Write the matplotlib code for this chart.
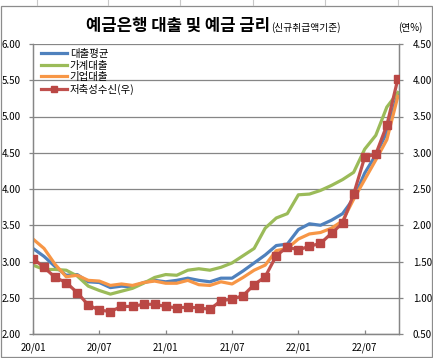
import matplotlib
matplotlib.use("Agg")
import matplotlib.pyplot as plt
from matplotlib.lines import Line2D
from matplotlib.patches import Rectangle

plt.rcParams['font.family'] = ['Noto Sans CJK KR', 'DejaVu Sans']

months = ['20/01','20/02','20/03','20/04','20/05','20/06','20/07','20/08','20/09','20/10','20/11','20/12',
          '21/01','21/02','21/03','21/04','21/05','21/06','21/07','21/08','21/09','21/10','21/11','21/12',
          '22/01','22/02','22/03','22/04','22/05','22/06','22/07','22/08','22/09','22/10']

loan_avg = [3.18, 3.07, 2.93, 2.81, 2.82, 2.72, 2.71, 2.64, 2.66, 2.65, 2.71, 2.74,
            2.72, 2.74, 2.77, 2.74, 2.72, 2.77, 2.77, 2.87, 2.98, 3.09, 3.22, 3.24,
            3.44, 3.52, 3.50, 3.57, 3.66, 3.87, 4.22, 4.47, 4.78, 5.32]
household = [2.95, 2.89, 2.89, 2.88, 2.80, 2.66, 2.60, 2.55, 2.59, 2.63, 2.70, 2.78,
             2.82, 2.81, 2.88, 2.90, 2.88, 2.92, 2.98, 3.08, 3.18, 3.46, 3.60, 3.66,
             3.92, 3.93, 3.98, 4.05, 4.13, 4.23, 4.55, 4.74, 5.13, 5.33]
corporate = [3.31, 3.18, 2.96, 2.79, 2.81, 2.74, 2.73, 2.67, 2.69, 2.67, 2.71, 2.73,
             2.70, 2.70, 2.74, 2.68, 2.67, 2.72, 2.69, 2.78, 2.88, 2.95, 3.15, 3.18,
             3.31, 3.38, 3.40, 3.46, 3.56, 3.86, 4.13, 4.40, 4.68, 5.28]
savings = [1.54, 1.42, 1.28, 1.21, 1.07, 0.90, 0.83, 0.81, 0.88, 0.88, 0.91, 0.91,
           0.88, 0.86, 0.87, 0.86, 0.84, 0.96, 0.98, 1.03, 1.18, 1.29, 1.58, 1.70,
           1.66, 1.71, 1.75, 1.89, 2.03, 2.43, 2.94, 2.98, 3.38, 4.02]

series_names = ['대출평균', '가계대출', '기업대출', '저축성수신(우)']
left_ticks = [2.0, 2.5, 3.0, 3.5, 4.0, 4.5, 5.0, 5.5, 6.0]
right_ticks = [0.5, 1.0, 1.5, 2.0, 2.5, 3.0, 3.5, 4.0, 4.5]
xtick_labels = ['20/01', '20/07', '21/01', '21/07', '22/01', '22/07']

W, H = 433, 358
fig = plt.figure(figsize=(W/100, H/100), dpi=100)

# outer chart border and spreadsheet cell lines above
fig.patches.append(Rectangle((1/W, 1/H), (W-2.5)/W, (H-6.5)/H, transform=fig.transFigure,
                             fill=False, edgecolor='#8c8c8c', lw=0.9))
for xc in [37, 108, 180, 253, 325, 398]:
    fig.lines.append(Line2D([xc/W, xc/W], [1-5/H, 1.0], transform=fig.transFigure,
                            color='#c8c8c8', lw=0.8))

L, R, T, B = 33, 399, 44, 334
ax = fig.add_axes([L/W, 1-B/H, (R-L)/W, (B-T)/H])
ax2 = ax.twinx()

x = list(range(len(months)))
c_blue, c_green, c_orange, c_red = '#4F81BD', '#9BBB59', '#F79646', '#C0504D'
ax.plot(x, loan_avg, color=c_blue, lw=2.3, zorder=3)
ax.plot(x, household, color=c_green, lw=2.3, zorder=3)
ax.plot(x, corporate, color=c_orange, lw=2.3, zorder=3)
ax2.plot(x, savings, color=c_red, lw=2.3, marker='s', markersize=6,
         markerfacecolor='#BA4744', markeredgecolor='#BA4744', zorder=4)

ax.set_xlim(0, 33.1)
ax.set_ylim(2, 6)
ax2.set_ylim(0.5, 4.5)
ax.set_yticks(left_ticks)
ax.set_yticklabels([f'{v:.2f}' for v in left_ticks])
ax2.set_yticks(right_ticks)
ax2.set_yticklabels([f'{v:.2f}' for v in right_ticks])
ax.set_xticks([months.index(m) for m in xtick_labels])
ax.set_xticklabels(xtick_labels)

gc = '#868686'
ax.yaxis.grid(True, color=gc, lw=0.9)
ax.set_axisbelow(True)
for a in (ax, ax2):
    a.spines['top'].set_visible(False)
    for s in ('left', 'right', 'bottom'):
        a.spines[s].set_color(gc)
        a.spines[s].set_linewidth(0.9)
ax.tick_params(axis='y', direction='out', length=3, width=0.9, color=gc, labelsize=7, pad=6)
ax2.tick_params(axis='y', direction='out', length=3, width=0.9, color=gc, labelsize=7, pad=7)
ax.tick_params(axis='x', direction='in', length=3, width=0.9, color=gc, labelsize=7, pad=6)

handles = [Line2D([], [], color=c_blue, lw=2.3),
           Line2D([], [], color=c_green, lw=2.3),
           Line2D([], [], color=c_orange, lw=2.3),
           Line2D([], [], color=c_red, lw=2.3, marker='s', markersize=4,
                  markerfacecolor='#BA4744', markeredgecolor='#BA4744')]
fig.legend(handles, series_names, loc='upper left', bbox_to_anchor=(41/W, 1-49/H),
           bbox_transform=fig.transFigure, frameon=False, fontsize=7.5,
           handlelength=2.5, handletextpad=0.25, labelspacing=0.15,
           borderpad=0, borderaxespad=0)

fig.text(270/W, 1-31/H, '예금은행 대출 및 예금 금리', ha='right', va='baseline',
         fontsize=12, fontweight='bold')
fig.text(271/W, 1-31/H, '(신규취급액기준)', ha='left', va='baseline', fontsize=7)
fig.text(398/W, 1-31/H, '(연%)', ha='left', va='baseline', fontsize=7)

fig.savefig('out.png', dpi=100)
